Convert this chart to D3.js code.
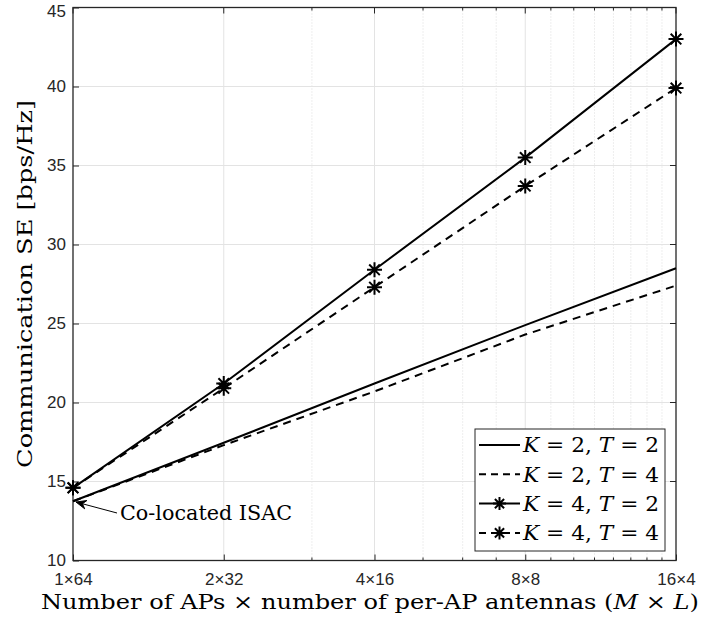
<!DOCTYPE html>
<html lang="en">
<head>
  <meta charset="UTF-8">
  <title>Communication SE vs AP configuration</title>
  <style>
    body { margin: 0; background: #fff; }
    #chart { width: 703px; height: 626px; }
  </style>
  <script src="https://d3js.org/d3.v7.min.js"></script>
</head>
<body>
<div id="chart"></div>
<script>
  // Data
  var apCounts = [1, 2, 4, 8, 16];
  var tickLabels = ["1\u00d764", "2\u00d732", "4\u00d716", "8\u00d78", "16\u00d74"];
  var yTicks = [10, 15, 20, 25, 30, 35, 40, 45];
  var seK2T2 = [13.75, 17.45, 21.2, 24.9, 28.5];
  var seK2T4 = [13.75, 17.3, 20.7, 24.3, 27.4];
  var seK4T2 = [14.6, 21.2, 28.4, 35.5, 43.0];
  var seK4T4 = [14.6, 20.9, 27.3, 33.7, 39.9];
  var legendK = ["2", "2", "4", "4"];
  var legendT = ["2", "4", "2", "4"];

  var width = 703, height = 626;
  var pLeft = 73, pRight = 676, pTop = 7.5, pBottom = 560.5;

  var xScale = d3.scaleLog().base(2).domain([1, 16]).range([pLeft, pRight]);
  var yScale = d3.scaleLinear().domain([10, 45]).range([pBottom, pTop]);

  var svg = d3.select("#chart").append("svg")
      .attr("width", width).attr("height", height);

  // fit a text to a target width
  function fitText(sel, target) {
    var w = sel.node().getComputedTextLength();
    if (w > 0) sel.attr("textLength", target).attr("lengthAdjust", "spacingAndGlyphs");
  }

  // minor grid (dotted) at 3,5..7,9..15
  var minorX = [];
  for (var i = 1; i < 16; i++) {
    if (apCounts.indexOf(i) < 0) minorX.push(i);
  }
  svg.append("g").selectAll("line").data(minorX).join("line")
      .attr("x1", function(d) { return xScale(d); })
      .attr("x2", function(d) { return xScale(d); })
      .attr("y1", pTop).attr("y2", pBottom)
      .attr("stroke", "#dcdcdc").attr("stroke-width", 1)
      .attr("stroke-dasharray", "1,2");

  // major grid
  svg.append("g").selectAll("line").data(apCounts.slice(1, -1)).join("line")
      .attr("x1", function(d) { return xScale(d); })
      .attr("x2", function(d) { return xScale(d); })
      .attr("y1", pTop).attr("y2", pBottom)
      .attr("stroke", "#e3e3e3").attr("stroke-width", 1);
  svg.append("g").selectAll("line").data(yTicks.slice(1, -1)).join("line")
      .attr("x1", pLeft).attr("x2", pRight)
      .attr("y1", function(d) { return yScale(d); })
      .attr("y2", function(d) { return yScale(d); })
      .attr("stroke", "#e3e3e3").attr("stroke-width", 1);

  // axes
  var axisColor = "#262626";
  var xAxis = d3.axisBottom(xScale).tickValues(apCounts)
      .tickFormat(function(d, i) { return tickLabels[i]; })
      .tickSizeInner(-6).tickSizeOuter(0).tickPadding(12);
  var gx = svg.append("g").attr("transform", "translate(0," + pBottom + ")").call(xAxis);
  var yAxis = d3.axisLeft(yScale).tickValues(yTicks)
      .tickSizeInner(-6).tickSizeOuter(0).tickPadding(7);
  var gy = svg.append("g").attr("transform", "translate(" + pLeft + ",0)").call(yAxis);
  [gx, gy].forEach(function(g) {
    g.select(".domain").remove();
    g.selectAll(".tick line").attr("stroke", axisColor);
    g.selectAll("text").attr("fill", axisColor)
        .style("font-family", "'Liberation Sans', Arial, sans-serif")
        .style("font-size", "17px");
  });
  // top label sits a little low so it stays inside the page
  gy.selectAll("text").filter(function(d) { return d === 45; }).attr("dy", "0.5em");

  // mirrored ticks on top and right, minor ticks on x
  var tickG = svg.append("g").attr("stroke", axisColor);
  tickG.selectAll(".tt").data(apCounts).join("line")
      .attr("x1", function(d) { return xScale(d); })
      .attr("x2", function(d) { return xScale(d); })
      .attr("y1", pTop).attr("y2", pTop + 6);
  tickG.selectAll(".mb").data(minorX).join("line")
      .attr("x1", function(d) { return xScale(d); })
      .attr("x2", function(d) { return xScale(d); })
      .attr("y1", pBottom).attr("y2", pBottom - 3);
  tickG.selectAll(".mt").data(minorX).join("line")
      .attr("x1", function(d) { return xScale(d); })
      .attr("x2", function(d) { return xScale(d); })
      .attr("y1", pTop).attr("y2", pTop + 3);
  tickG.selectAll(".rt").data(yTicks).join("line")
      .attr("x1", pRight).attr("x2", pRight - 6)
      .attr("y1", function(d) { return yScale(d); })
      .attr("y2", function(d) { return yScale(d); });

  // box
  svg.append("rect")
      .attr("x", pLeft).attr("y", pTop)
      .attr("width", pRight - pLeft).attr("height", pBottom - pTop)
      .attr("fill", "none").attr("stroke", axisColor).attr("stroke-width", 1.3);

  // series
  var series = [
    { values: seK2T2, dash: null, marker: false },
    { values: seK2T4, dash: "8,6", marker: false },
    { values: seK4T2, dash: null, marker: true },
    { values: seK4T4, dash: "8,6", marker: true }
  ];
  var line = d3.line()
      .x(function(d) { return xScale(d.x); })
      .y(function(d) { return yScale(d.y); });

  function starPath(r) {
    var d = "";
    for (var a = 0; a < 4; a++) {
      var ang = a * Math.PI / 4;
      var dx = r * Math.cos(ang), dy = r * Math.sin(ang);
      d += "M" + (-dx) + "," + (-dy) + "L" + dx + "," + dy;
    }
    return d;
  }

  series.forEach(function(s) {
    var pts = s.values.map(function(v, i) { return { x: apCounts[i], y: v }; });
    svg.append("path").datum(pts)
        .attr("d", line)
        .attr("fill", "none").attr("stroke", "#000").attr("stroke-width", 2)
        .attr("stroke-dasharray", s.dash);
    if (s.marker) {
      svg.append("g").selectAll("path").data(pts).join("path")
          .attr("transform", function(d) { return "translate(" + xScale(d.x) + "," + yScale(d.y) + ")"; })
          .attr("d", starPath(7.5))
          .attr("stroke", "#000").attr("stroke-width", 2).attr("fill", "none");
    }
  });

  // annotation
  var serif = "'DejaVu Serif', 'Liberation Serif', serif";
  var ax0 = xScale(1) + 3, ay0 = yScale(13.7);
  var tx = 119, ty = 513;
  svg.append("line")
      .attr("x1", tx - 2).attr("y1", ty)
      .attr("x2", ax0).attr("y2", ay0)
      .attr("stroke", "#000").attr("stroke-width", 1);
  var ang = Math.atan2(ty - ay0, tx - 2 - ax0);
  var ah = 11, aw = 0.4;
  svg.append("path")
      .attr("d", "M" + ax0 + "," + ay0 +
        "L" + (ax0 + ah * Math.cos(ang - aw)) + "," + (ay0 + ah * Math.sin(ang - aw)) +
        "L" + (ax0 + ah * 0.6 * Math.cos(ang)) + "," + (ay0 + ah * 0.6 * Math.sin(ang)) +
        "L" + (ax0 + ah * Math.cos(ang + aw)) + "," + (ay0 + ah * Math.sin(ang + aw)) + "Z")
      .attr("fill", "#000").attr("stroke", "#000").attr("stroke-width", 1);
  var ann = svg.append("text")
      .attr("x", tx + 1).attr("y", ty).attr("dy", "0.35em")
      .style("font-family", serif).style("font-size", "20px")
      .text("Co-located ISAC");
  fitText(ann, 172);

  // axis labels
  var xl = svg.append("text")
      .attr("x", 41).attr("y", 609)
      .style("font-family", serif).style("font-size", "20.5px").attr("fill", "#000");
  xl.append("tspan").text("Number of APs \u00d7 number of per-AP antennas (");
  xl.append("tspan").style("font-style", "italic").text("M");
  xl.append("tspan").text(" \u00d7 ");
  xl.append("tspan").style("font-style", "italic").text("L");
  xl.append("tspan").text(")");
  fitText(xl, 658);

  var yl = svg.append("text")
      .attr("transform", "translate(32," + ((pTop + pBottom) / 2) + ") rotate(-90)")
      .attr("text-anchor", "middle")
      .style("font-family", serif).style("font-size", "20.5px").attr("fill", "#000")
      .text("Communication SE [bps/Hz]");
  fitText(yl, 368);

  // legend
  var lg = svg.append("g");
  lg.append("rect")
      .attr("x", 475).attr("y", 429).attr("width", 190).attr("height", 122)
      .attr("fill", "#fff").attr("stroke", axisColor).attr("stroke-width", 1);
  series.forEach(function(s, i) {
    var cy = 445 + i * 29.3;
    lg.append("line")
        .attr("x1", 479).attr("x2", 520).attr("y1", cy).attr("y2", cy)
        .attr("stroke", "#000").attr("stroke-width", 2)
        .attr("stroke-dasharray", s.dash ? "7,5" : null);
    if (s.marker) {
      lg.append("path").attr("transform", "translate(499.5," + cy + ")")
          .attr("d", starPath(6.5))
          .attr("stroke", "#000").attr("stroke-width", 2);
    }
    var t = lg.append("text").attr("x", 523).attr("y", cy).attr("dy", "0.35em")
        .style("font-family", serif).style("font-size", "21px");
    t.append("tspan").style("font-style", "italic").text("K");
    t.append("tspan").text(" = " + legendK[i] + ", ");
    t.append("tspan").style("font-style", "italic").text("T");
    t.append("tspan").text(" = " + legendT[i]);
    fitText(t, 136);
  });
</script>
</body>
</html>
